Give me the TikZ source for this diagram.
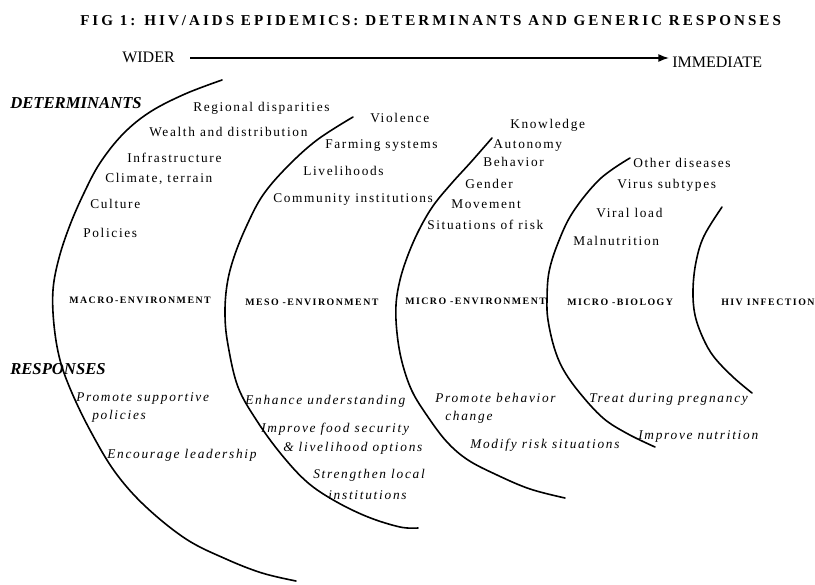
\documentclass[tikz,border=0pt]{standalone}
\usepackage{fontspec}
\setmainfont{Liberation Serif}
\newfontfamily\spaced[LetterSpace=12.5]{Liberation Serif}
\newfontfamily\spacedit[LetterSpace=13,ItalicFont={Liberation Serif Italic}]{Liberation Serif}
\newfontfamily\spacedbf[LetterSpace=15]{Liberation Serif}
\newfontfamily\titlefont[LetterSpace=20]{Liberation Serif}
\usetikzlibrary{arrows.meta}
\begin{document}
\begin{tikzpicture}[x=0.75pt,y=-0.75pt,
  txt/.style={anchor=west,inner sep=0pt,text height=0.8em,text depth=0pt},
  det/.style={txt,font=\spaced\fontsize{10}{12}\selectfont},
  resp/.style={txt,font=\spacedit\itshape\fontsize{10}{12}\selectfont},
  zone/.style={txt,font=\spacedbf\bfseries\fontsize{7.4}{8}\selectfont},
  head/.style={txt,font=\bfseries\itshape\fontsize{12.5}{14}\selectfont},
  arc/.style={line width=1.2pt,line join=round,line cap=round}]
\useasboundingbox (0,0) rectangle (815,585);

% title and direction arrow
\node[txt,font=\titlefont\bfseries\fontsize{11.3}{14}\selectfont] (title) at (80,20) {FIG 1: HIV/AIDS EPIDEMICS: DETERMINANTS AND GENERIC RESPONSES};
\node[txt,font=\fontsize{12}{14}\selectfont] (wider) at (122,57) {WIDER};
\node[txt,font=\fontsize{12}{14}\selectfont] (immediate) at (672,62) {IMMEDIATE};
\coordinate (arrA) at (190,58);
\coordinate (arrB) at (669,58);
\draw[line width=1.1pt,-{Latex[length=8pt,width=6pt]}] (arrA) -- (arrB);

% section headings
\node[head] (determinants) at (10,103) {DETERMINANTS};
\node[head] (responses) at (10,369) {RESPONSES};

% nested arcs, widest context on the left
\draw[arc] plot[smooth,tension=0.6] coordinates {(222,80) (185,94) (150,112) (123,134) (100,163) (84,193) (70,225) (59,258) (53,290) (54,325) (60,360) (72,393) (91,432) (115,472) (145,506) (186,539) (226,559) (262,573) (296,581)};
\draw[arc] plot[smooth,tension=0.6] coordinates {(353,117) (317,140) (287,167) (263,195) (247,225) (234,257) (227,285) (225,315) (228,345) (238,387) (257,421) (281,454) (307,482) (335,501) (368,517) (400,527) (418,528)};
\draw[arc] plot[smooth,tension=0.6] coordinates {(492,138) (471,162) (451,184) (433,206) (419,230) (408,255) (400,280) (396,305) (397,333) (402,362) (412,391) (428,417) (447,442) (468,460) (497,475) (530,489) (565,498)};
\draw[arc] plot[smooth,tension=0.6] coordinates {(630,158) (600,179) (573,212) (558,243) (549,272) (547,300) (548,320) (554,347) (563,369) (579,392) (603,418) (628,434) (655,447)};
\draw[arc] plot[smooth,tension=0.6] coordinates {(722,207) (704,236) (696,262) (693,290) (695,315) (703,338) (714,357) (733,377) (752,393)};

% macro-environment
\node[det] (m1) at (193,106) {Regional disparities};
\node[det] (m2) at (149,131) {Wealth and distribution};
\node[det] (m3) at (127,157) {Infrastructure};
\node[det] (m4) at (105,177) {Climate, terrain};
\node[det] (m5) at (90,203) {Culture};
\node[det] (m6) at (83,232) {Policies};
\node[zone] (macro) at (69,298) {MACRO-ENVIRONMENT};
\node[resp] (r1a) at (76,396) {Promote supportive};
\node[resp] (r1b) at (92,414) {policies};
\node[resp] (r2) at (107,453) {Encourage leadership};

% meso-environment
\node[det] (s1) at (370,117) {Violence};
\node[det] (s2) at (325,143) {Farming systems};
\node[det] (s3) at (303,170) {Livelihoods};
\node[det] (s4) at (273,197) {Community institutions};
\node[zone] (meso) at (245,300) {MESO -ENVIRONMENT};
\node[resp] (r3) at (245,399) {Enhance understanding};
\node[resp] (r4) at (261,427) {Improve food security};
\node[resp] (r5) at (283,446) {\& livelihood options};
\node[resp] (r6) at (313,473) {Strengthen local};
\node[resp] (r7) at (328,494) {institutions};

% micro-environment
\node[det] (e1) at (510,123) {Knowledge};
\node[det] (e2) at (493,143) {Autonomy};
\node[det] (e3) at (483,161) {Behavior};
\node[det] (e4) at (465,183) {Gender};
\node[det] (e5) at (451,203) {Movement};
\node[det] (e6) at (427,224) {Situations of risk};
\node[zone] (micro) at (405,299) {MICRO -ENVIRONMENT};
\node[resp] (r8a) at (435,397) {Promote behavior};
\node[resp] (r8b) at (445,415) {change};
\node[resp] (r9) at (470,443) {Modify risk situations};

% micro-biology
\node[det] (b1) at (633,162) {Other diseases};
\node[det] (b2) at (617,183) {Virus subtypes};
\node[det] (b3) at (596,212) {Viral load};
\node[det] (b4) at (573,240) {Malnutrition};
\node[zone] (biology) at (567,300) {MICRO -BIOLOGY};
\node[resp] (r10) at (589,397) {Treat during pregnancy};
\node[resp] (r11) at (638,434) {Improve nutrition};

% infection
\node[zone] (hiv) at (721,300) {HIV INFECTION};
\end{tikzpicture}
\end{document}
